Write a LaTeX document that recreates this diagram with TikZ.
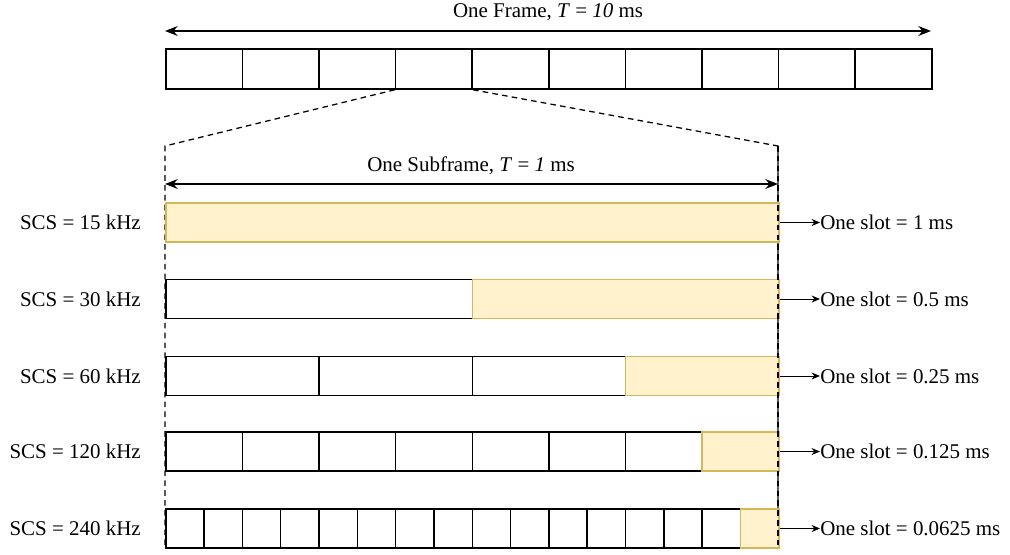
\documentclass[tikz,border=0pt]{standalone}
\usepackage{fontspec}
\setmainfont{Liberation Serif}
\usepackage{tikz}
\usetikzlibrary{arrows.meta, positioning, calc}
\definecolor{slot_fill}{RGB}{255, 242, 204}
\definecolor{slot_edge}{RGB}{214, 182, 86}

\begin{document}
\begin{tikzpicture}[x=0.025cm, y=-0.025cm,
        box/.style={rectangle, draw=black, line width=1.1pt, minimum height=0.97cm,
                    inner sep=0pt, anchor=west},
        slotbox/.style={box, draw=slot_edge, fill=slot_fill},
        dim/.style={{Stealth[length=9pt, width=7pt]}-{Stealth[length=9pt, width=7pt]}, line width=1.1pt},
        arr/.style={-{Stealth[length=6pt, width=5pt]}, line width=0.7pt},
        zoom/.style={dashed, line width=0.9pt, dash pattern=on 4pt off 3pt},
        lbl/.style={font=\fontsize{14.9}{18}\selectfont, inner sep=0pt},
      ]
        \useasboundingbox (0,0) rectangle (1010,554);

        % Frame: ten subframes
        \foreach \i in {0,...,9}
          \node[box, minimum width=1.915cm, minimum height=1.0cm] (f\i) at ({165+\i*76.6},69) {};

        \coordinate (fa) at (165,31);
        \coordinate (fb) at (931,31);
        \draw[dim] (fa) -- (fb);
        \node[lbl] (ftxt) at (548,12) {One Frame, \textit{T} = \textit{10} ms};

        % Zoom on the fourth subframe
        \coordinate (zl) at (165,146);
        \coordinate (zr) at (778,146);
        \coordinate (zlb) at (165,549);
        \coordinate (zrb) at (778,549);
        \draw[zoom] (f3.south west) -- (zl) -- (zlb);
        \draw[zoom] (f3.south east) -- (zr) -- (zrb);

        \coordinate (sa) at (165,184);
        \coordinate (sb) at (778,184);
        \draw[dim] (sa) -- (sb);
        \node[lbl] (stxt) at (471,166) {One Subframe, \textit{T} = \textit{1} ms};

        % Slots per numerology
        \foreach \k/\n/\yc/\scs/\len in {1/1/222.5/15/1, 2/2/299/30/0.5,
            3/4/376/60/0.25, 4/8/451.5/120/0.125, 5/16/528.5/240/0.0625} {
          \pgfmathsetmacro\w{613/\n}
          \foreach \i in {1,...,\n} {
            \ifnum\i=\n
              \node[slotbox, minimum width=\w*0.025cm] (r\k-\i) at ({165+(\i-1)*\w},\yc) {};
            \else
              \node[box, minimum width=\w*0.025cm] (r\k-\i) at ({165+(\i-1)*\w},\yc) {};
            \fi
          }
          \node[lbl, anchor=east] (scs\k) at (141,\yc) {SCS = \scs\ kHz};
          \node[lbl, anchor=west] (len\k) at (820,\yc) {One slot = \len\ ms};
          \draw[arr] (r\k-\n.east) -- (len\k.west);
        }
        % dashed edges over the slot borders
        \draw[zoom] (zr) -- (zrb);
      \end{tikzpicture}
\end{document}
